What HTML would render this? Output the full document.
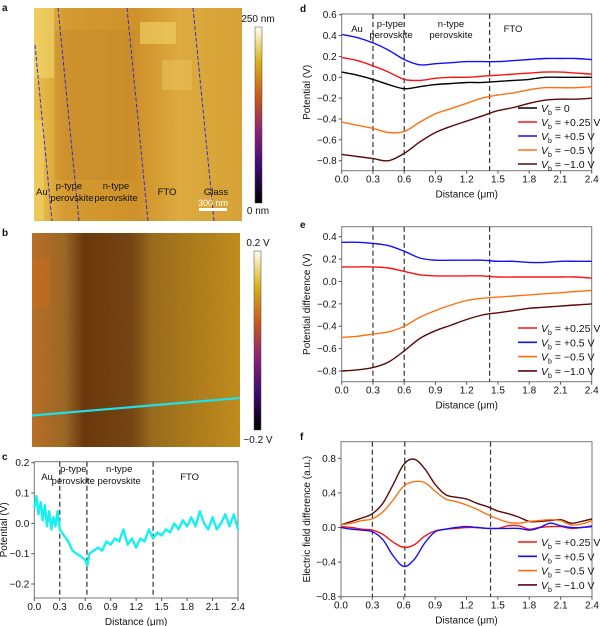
<!DOCTYPE html>
<html><head><meta charset="utf-8"><style>
html,body{margin:0;padding:0;background:#fff;}
svg{display:block;font-family:"Liberation Sans",sans-serif;}
</style></head><body>
<svg id="fig" width="600" height="626" viewBox="0 0 600 626" xmlns="http://www.w3.org/2000/svg">
<defs>
<linearGradient id="ga" x1="0" y1="0" x2="1" y2="0">
<stop offset="0" stop-color="#ecc24e"/><stop offset="0.15" stop-color="#d49a30"/><stop offset="0.5" stop-color="#cf922a"/><stop offset="0.7" stop-color="#dcaa3e"/><stop offset="1" stop-color="#d6a236"/></linearGradient>
<linearGradient id="gb" x1="0" y1="0" x2="1" y2="0">
<stop offset="0" stop-color="#c07428"/><stop offset="0.16" stop-color="#a06a26"/><stop offset="0.25" stop-color="#6e3a10"/><stop offset="0.48" stop-color="#7a4814"/><stop offset="0.58" stop-color="#a07020"/><stop offset="1" stop-color="#c8921e"/></linearGradient>
<linearGradient id="cba" x1="0" y1="1" x2="0" y2="0">
<stop offset="0" stop-color="#000"/><stop offset="0.2" stop-color="#3a0a6e"/><stop offset="0.4" stop-color="#8a2178"/><stop offset="0.6" stop-color="#c85a1e"/><stop offset="0.8" stop-color="#d8b018"/><stop offset="1" stop-color="#fffff0"/></linearGradient>
<filter id="noise" x="0" y="0" width="1" height="1"><feTurbulence type="fractalNoise" baseFrequency="0.9" numOctaves="1" result="n"/><feColorMatrix in="n" type="saturate" values="0" result="g"/><feComponentTransfer in="g" result="a"><feFuncA type="linear" slope="0.35"/></feComponentTransfer><feBlend in="SourceGraphic" in2="a" mode="multiply"/></filter>
</defs>
</svg>
<script>
const NS='http://www.w3.org/2000/svg';
const svg=document.getElementById('fig');
function el(tag,attrs,parent,text){const e=document.createElementNS(NS,tag);for(const k in attrs)e.setAttribute(k,attrs[k]);if(text!==undefined)e.textContent=text;(parent||svg).appendChild(e);return e;}

// ---------- DATA ----------
const xD=[0,0.15,0.3,0.45,0.6,0.75,0.9,1.05,1.2,1.35,1.5,1.65,1.8,1.95,2.1,2.25,2.4];
const dV0=[0.05,0.02,-0.02,-0.07,-0.11,-0.09,-0.07,-0.06,-0.05,-0.05,-0.04,-0.03,-0.02,0.0,0.0,0.0,0.0];
const dVp025=[0.19,0.16,0.11,0.05,-0.02,-0.03,-0.01,0.0,0.0,0.01,0.02,0.03,0.04,0.05,0.05,0.04,0.03];
const dVp05=[0.41,0.38,0.33,0.26,0.17,0.12,0.13,0.14,0.15,0.15,0.15,0.16,0.17,0.18,0.18,0.18,0.17];
const dVm05=[-0.43,-0.46,-0.49,-0.53,-0.52,-0.43,-0.35,-0.30,-0.25,-0.20,-0.17,-0.15,-0.12,-0.10,-0.10,-0.10,-0.09];
const dVm10=[-0.74,-0.76,-0.78,-0.80,-0.73,-0.62,-0.53,-0.47,-0.42,-0.37,-0.32,-0.29,-0.25,-0.22,-0.21,-0.21,-0.20];
const eVp025=[0.13,0.13,0.13,0.12,0.09,0.06,0.05,0.05,0.05,0.05,0.04,0.04,0.04,0.04,0.04,0.04,0.03];
const eVp05=[0.35,0.35,0.34,0.32,0.27,0.21,0.19,0.19,0.19,0.19,0.18,0.18,0.17,0.17,0.18,0.18,0.18];
const eVm05=[-0.50,-0.49,-0.47,-0.45,-0.40,-0.32,-0.26,-0.21,-0.17,-0.15,-0.14,-0.13,-0.12,-0.11,-0.10,-0.09,-0.08];
const eVm10=[-0.80,-0.79,-0.77,-0.72,-0.62,-0.51,-0.44,-0.39,-0.34,-0.30,-0.28,-0.26,-0.24,-0.23,-0.22,-0.21,-0.20];
const xF=[0,0.1,0.2,0.3,0.4,0.5,0.6,0.7,0.8,0.9,1.0,1.1,1.2,1.3,1.4,1.5,1.6,1.7,1.8,1.9,2.0,2.1,2.2,2.3,2.4];
const fVm10=[0.03,0.07,0.11,0.16,0.28,0.50,0.73,0.79,0.68,0.50,0.38,0.35,0.33,0.28,0.24,0.19,0.16,0.12,0.07,0.07,0.08,0.09,0.05,0.07,0.10];
const fVm05=[0.03,0.05,0.08,0.10,0.18,0.32,0.48,0.53,0.52,0.42,0.33,0.30,0.26,0.21,0.15,0.10,0.06,0.05,0.07,0.08,0.09,0.08,0.03,0.04,0.08];
const fVp025=[0.01,0.0,-0.02,-0.03,-0.08,-0.17,-0.23,-0.20,-0.10,-0.04,-0.02,-0.01,0.0,0.0,-0.01,-0.01,0.02,0.02,-0.02,0.0,0.01,0.01,-0.01,0.0,0.02];
const fVp05=[0.0,-0.02,-0.03,-0.05,-0.14,-0.33,-0.45,-0.37,-0.18,-0.05,-0.02,0.0,0.01,0.0,-0.01,-0.01,-0.01,-0.01,-0.03,0.0,0.05,0.02,0.0,0.0,0.01];
const xC=[0,0.025,0.05,0.075,0.1,0.125,0.15,0.175,0.2,0.225,0.25,0.275,0.3,0.35,0.4,0.45,0.5,0.55,0.6,0.625,0.65,0.7,0.75,0.8,0.85,0.9,0.95,1.0,1.05,1.1,1.15,1.2,1.25,1.3,1.35,1.4,1.45,1.5,1.55,1.6,1.65,1.7,1.75,1.8,1.85,1.9,1.95,2.0,2.05,2.1,2.15,2.2,2.25,2.3,2.35,2.4];
const cV=[0.05,0.09,0.03,0.07,0.01,0.06,-0.01,0.04,-0.02,0.02,-0.01,0.04,-0.02,-0.04,-0.06,-0.09,-0.10,-0.11,-0.12,-0.14,-0.10,-0.09,-0.08,-0.09,-0.06,-0.07,-0.05,-0.06,-0.02,-0.07,-0.05,-0.08,-0.05,-0.06,-0.02,-0.05,-0.03,-0.04,-0.02,-0.03,0.0,-0.02,0.01,-0.01,0.02,-0.01,0.04,0.0,-0.02,0.02,-0.02,0.0,0.03,-0.01,0.03,-0.02];
const xTicks=[0,0.3,0.6,0.9,1.2,1.5,1.8,2.1,2.4];
const xTickLabels=['0.0','0.3','0.6','0.9','1.2','1.5','1.8','2.1','2.4'];
const legendLabels=['= 0','= +0.25 V','= +0.5 V','= \u22120.5 V','= \u22121.0 V'];
const colors={k:'#000',r:'#ff1010',b:'#1010ff',o:'#ff7010',m:'#5a0808'};

function fmt(v,d){return (v<0?'\u2212':'')+Math.abs(v).toFixed(d);}
function smoothPath(pts){
  let d='M'+pts[0][0].toFixed(1)+','+pts[0][1].toFixed(1);
  for(let i=0;i<pts.length-1;i++){
    const p0=pts[Math.max(0,i-1)],p1=pts[i],p2=pts[i+1],p3=pts[Math.min(pts.length-1,i+2)];
    const c1x=p1[0]+(p2[0]-p0[0])/6,c1y=p1[1]+(p2[1]-p0[1])/6;
    const c2x=p2[0]-(p3[0]-p1[0])/6,c2y=p2[1]-(p3[1]-p1[1])/6;
    d+=` C${c1x.toFixed(1)},${c1y.toFixed(1)} ${c2x.toFixed(1)},${c2y.toFixed(1)} ${p2[0].toFixed(1)},${p2[1].toFixed(1)}`;
  }
  return d;
}

function panel(name,fr,ymin,ymax,yTicks,yDec,ytitle,series,boundaries,legend){
  const g=el('g',{});
  
  
  const X=v=>fr.x0+(v-0)/(2.4)*(fr.x1-fr.x0);
  const Y=v=>fr.yb-(v-ymin)/(ymax-ymin)*(fr.yb-fr.yt);
  const F=fr.ft!==undefined?fr.ft:Y(ymax);
  const fb=fr.fb!==undefined?fr.fb:Y(ymin);
  const fx1=fr.x1;
  const frame=el('rect',{x:fr.x0,y:F,width:fx1-fr.x0,height:fb-F,fill:'none',stroke:'#777','stroke-width':1},g);
  
  
  xTicks.forEach((t,i)=>{
    el('line',{x1:X(t),x2:X(t),y1:fb,y2:fb+3,stroke:'#555'},g);
    const tl=el('text',{x:X(t),y:fb+12,'font-size':10,'text-anchor':'middle',fill:'#111'},g,xTickLabels[i]);
    
    
  });
  yTicks.forEach(t=>{
    el('line',{x1:fr.x0-3,x2:fr.x0,y1:Y(t),y2:Y(t),stroke:'#555'},g);
    const tl=el('text',{x:fr.x0-5,y:Y(t)+3.5,'font-size':10,'text-anchor':'end',fill:'#111'},g,fmt(t,yDec));
    
    
  });
  const xt=el('text',{x:(fr.x0+fx1)/2,y:fb+27,'font-size':10,'text-anchor':'middle',fill:'#111'},g,'Distance (\u03bcm)');
  
  
  const yt=el('text',{x:0,y:0,'font-size':10,'text-anchor':'middle',fill:'#111',transform:`translate(${fr.tx},${(F+fb)/2}) rotate(-90)`},g,ytitle);
  
  
  boundaries.forEach(b=>{
    const l=el('line',{x1:X(b),x2:X(b),y1:F,y2:fb,stroke:'#333','stroke-width':1.2,'stroke-dasharray':'5,3'},g);
    
    
  });
  series.forEach(s=>{
    const pts=s.x.map((v,i)=>[X(v),Y(s.y[i])]);
    const d=s.raw?pts.map((p,i)=>(i?'L':'M')+p[0].toFixed(1)+','+p[1].toFixed(1)).join(' '):smoothPath(pts);
    const p=el('path',{d:d,fill:'none',stroke:s.c,'stroke-width':s.w||1.4,'stroke-linejoin':'round'},g);
    
    
  });
  if(legend){
    legend.items.forEach((it,i)=>{
      const y=legend.y0+i*legend.dy;
      const lg=el('g',{},g);
      
      
      el('line',{x1:legend.x,x2:legend.x+19,y1:y,y2:y,stroke:it.c,'stroke-width':1.6},lg);
      const t=el('text',{x:legend.x+23,y:y+4,'font-size':10.5,fill:'#111'},lg);
      el('tspan',{'font-style':'italic'},t,'V');
      el('tspan',{'font-size':7,dy:3},t,'b');
      el('tspan',{dy:-3},t,' '+it.t);
    });
  }
  return {g,X,Y};
}
function txt(x,y,s,name,size,anchor,weight,parent){
  const t=el('text',{x:x,y:y,'font-size':size||10,'text-anchor':anchor||'start','font-weight':weight||'normal',fill:'#111'},parent||svg,s);
  
  
  return t;
}

// ---------- Panel a ----------
const ga=el('g',{});


el('rect',{x:34,y:8,width:208,height:213,fill:'url(#ga)'},ga);
el('rect',{x:34,y:8,width:20,height:70,fill:'#f0d268',opacity:0.7},ga);
el('rect',{x:140,y:22,width:36,height:22,fill:'#eccc62',opacity:0.7},ga);
el('rect',{x:162,y:60,width:30,height:30,fill:'#e6c056',opacity:0.6},ga);
el('rect',{x:55,y:30,width:80,height:150,fill:'#c08428',opacity:0.35},ga);
el('rect',{x:34,y:120,width:10,height:100,fill:'#eecf62',opacity:0.7},ga);
[[58,8,79,221],[127,8,148,221],[193,8,214,221],[35,45,52,221]].forEach(l=>{
  const ln=el('line',{x1:l[0],y1:l[1],x2:l[2],y2:l[3],stroke:'#3030d0','stroke-width':1,'stroke-dasharray':'4,2'},ga);
  
  
});
txt(36,195,'Au','label-au',9.5);
txt(69,189,'p-type','label-p-type',9.5,'middle');
txt(72,201,'perovskite','label-p-perovskite',9.5,'middle');
txt(116,189,'n-type','label-n-type',9.5,'middle');
txt(116,201,'perovskite','label-n-perovskite',9.5,'middle');
txt(167,195,'FTO','label-fto',9.5,'middle');
txt(216,195,'Glass','label-glass',9.5,'middle');
txt(213,206,'300 nm','scale-bar-label',9,'middle').setAttribute('fill','#fff');
const sb=el('rect',{x:199,y:208,width:28,height:3,fill:'#fff'});


const cbA=el('rect',{x:255,y:27,width:7,height:176,fill:'url(#cba)',stroke:'#444','stroke-width':0.5});


txt(258,22,'250 nm','colorbar-a-max',10,'middle');
txt(258,214,'0 nm','colorbar-a-min',10,'middle');
txt(2,11,'a','panel-label-a',10,'start','bold');

// ---------- Panel b ----------
const gb=el('g',{});


el('rect',{x:32,y:233,width:208,height:214,fill:'url(#gb)',filter:'url(#noise)'},gb);
el('rect',{x:32,y:258,width:18,height:50,fill:'#d86a20',opacity:0.35},gb);
const cy=el('line',{x1:32,y1:415.5,x2:240,y2:398,stroke:'#20e0e8','stroke-width':2.2},gb);


const cbB=el('rect',{x:254,y:251,width:7,height:179,fill:'url(#cba)',stroke:'#444','stroke-width':0.5});


txt(258,246,'0.2 V','colorbar-b-max',10,'middle');
txt(258,443,'\u22120.2 V','colorbar-b-min',10,'middle');
txt(2,236,'b','panel-label-b',10,'start','bold');

// ---------- Panel c ----------
const pc=panel('panel-c-chart',{x0:34.3,x1:238,yt:462.7,yb:584,tx:7,ft:461.7,fb:598},-0.2,0.2,[-0.2,-0.1,0,0.1,0.2],1,'Potential (V)',
  [{x:xC,y:cV,c:'#18f0f0',w:2.4,n:'potential-profile-line',raw:true}],[0.3,0.62,1.4],null);
txt(pc.X(0.15),pc.Y(0.15)+2,'Au','c-label-au',9.5,'middle',null,pc.g);
txt(pc.X(0.46),pc.Y(0.17),'p-type','c-label-p',9.5,'middle',null,pc.g);
txt(pc.X(0.46),pc.Y(0.13),'perovskite','c-label-p2',9.5,'middle',null,pc.g);
txt(pc.X(1.0),pc.Y(0.17),'n-type','c-label-n',9.5,'middle',null,pc.g);
txt(pc.X(1.0),pc.Y(0.13),'perovskite','c-label-n2',9.5,'middle',null,pc.g);
txt(pc.X(1.83),pc.Y(0.15)+2,'FTO','c-label-fto',9.5,'middle',null,pc.g);
txt(2,460,'c','panel-label-c',10,'start','bold');

// ---------- Panel d ----------
const pd=panel('panel-d-chart',{x0:341.7,x1:591.7,yt:14.7,yb:160.7,tx:310,ft:14,fb:170.7},-0.8,0.6,[-0.8,-0.6,-0.4,-0.2,0,0.2,0.4,0.6],1,'Potential (V)',
  [{x:xD,y:dVp05,c:colors.b,n:'series-vb-plus-0.5'},{x:xD,y:dVp025,c:colors.r,n:'series-vb-plus-0.25'},{x:xD,y:dV0,c:colors.k,n:'series-vb-0'},{x:xD,y:dVm05,c:colors.o,n:'series-vb-minus-0.5'},{x:xD,y:dVm10,c:colors.m,n:'series-vb-minus-1.0'}],
  [0.3,0.6,1.42],{x:518,y0:108,dy:14,items:[{c:colors.k,t:legendLabels[0]},{c:colors.r,t:legendLabels[1]},{c:colors.b,t:legendLabels[2]},{c:colors.o,t:legendLabels[3]},{c:colors.m,t:legendLabels[4]}]});
txt(357,32,'Au','d-label-au',9.5,'middle',null,pd.g);
txt(390,27,'p-type','d-label-p',9.5,'middle',null,pd.g);
txt(391,38,'perovskite','d-label-p2',9.5,'middle',null,pd.g);
txt(451,27,'n-type','d-label-n',9.5,'middle',null,pd.g);
txt(451,38,'perovskite','d-label-n2',9.5,'middle',null,pd.g);
txt(513,32,'FTO','d-label-fto',9.5,'middle',null,pd.g);
txt(300,12,'d','panel-label-d',10,'start','bold');

// ---------- Panel e ----------
const pe=panel('panel-e-chart',{x0:341.7,x1:591.7,yt:236.7,yb:371,tx:310,ft:226.7,fb:381.7},-0.8,0.4,[-0.8,-0.6,-0.4,-0.2,0,0.2,0.4],1,'Potential difference (V)',
  [{x:xD,y:eVp05,c:colors.b,n:'series-vb-plus-0.5'},{x:xD,y:eVp025,c:colors.r,n:'series-vb-plus-0.25'},{x:xD,y:eVm05,c:colors.o,n:'series-vb-minus-0.5'},{x:xD,y:eVm10,c:colors.m,n:'series-vb-minus-1.0'}],
  [0.3,0.6,1.42],{x:518,y0:328,dy:14.3,items:[{c:colors.r,t:legendLabels[1]},{c:colors.b,t:legendLabels[2]},{c:colors.o,t:legendLabels[3]},{c:colors.m,t:legendLabels[4]}]});
txt(300,228,'e','panel-label-e',10,'start','bold');

// ---------- Panel f ----------
const pf=panel('panel-f-chart',{x0:341,x1:592,yt:458.3,yb:596.7,tx:310,ft:441.7,fb:596.7},-0.8,0.8,[-0.8,-0.4,0,0.4,0.8],1,'Electric field difference (a.u.)',
  [{x:xF,y:fVm10,c:colors.m,n:'series-vb-minus-1.0'},{x:xF,y:fVm05,c:colors.o,n:'series-vb-minus-0.5'},{x:xF,y:fVp025,c:colors.r,n:'series-vb-plus-0.25'},{x:xF,y:fVp05,c:colors.b,n:'series-vb-plus-0.5'}],
  [0.3,0.61,1.43],{x:518,y0:542,dy:14.3,items:[{c:colors.r,t:legendLabels[1]},{c:colors.b,t:legendLabels[2]},{c:colors.o,t:legendLabels[3]},{c:colors.m,t:legendLabels[4]}]});
txt(300,440,'f','panel-label-f',10,'start','bold');
</script>
</body></html>
